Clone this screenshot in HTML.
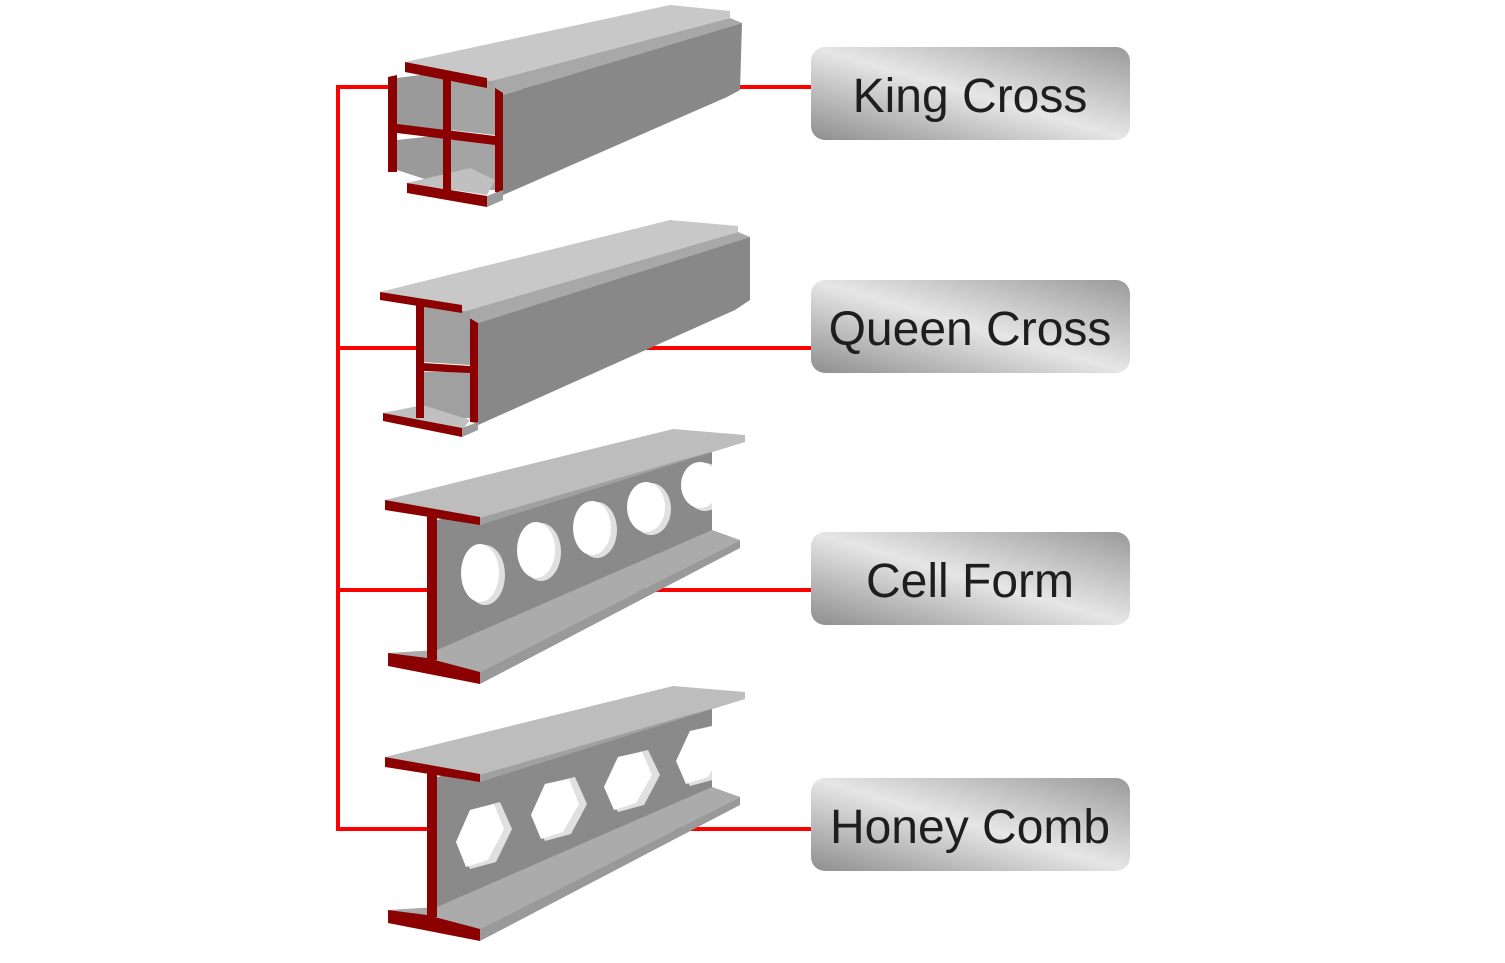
<!DOCTYPE html>
<html><head><meta charset="utf-8"><style>
html,body{margin:0;padding:0;background:#fff;}
svg{display:block;}
text{font-family:"Liberation Sans",sans-serif;}
</style></head><body>
<svg width="1505" height="963" viewBox="0 0 1505 963" xmlns="http://www.w3.org/2000/svg">
<defs>
<linearGradient id="met" x1="0" y1="1" x2="1" y2="0">
<stop offset="0" stop-color="#8e8e8e"/>
<stop offset="0.5" stop-color="#e6e6e6"/>
<stop offset="1" stop-color="#9a9a9a"/>
</linearGradient>
<clipPath id="web"><polygon points="437,520 712,452 712,537 437,660"/></clipPath>
</defs>
<!-- connectors -->
<g stroke="#ff0000" stroke-width="4" fill="none">
<line x1="338" y1="85" x2="338" y2="831"/>
<line x1="336" y1="87" x2="812" y2="87"/>
<line x1="336" y1="348" x2="812" y2="348"/>
<line x1="336" y1="590" x2="812" y2="590"/>
<line x1="336" y1="829" x2="812" y2="829"/>
</g>

<!-- Beam 1: King cross -->
<g>
<polygon points="487,82 730,18 742,23 503,95" fill="#a8a8a8"/>
<polygon points="503,95 742,23 740,90 727,97 503,195" fill="#888"/>
<polygon points="405,62 670,5 730,11 730,18 487,82" fill="#c8c8c8"/>
<polygon points="397,78 443,72 443,130 397,125" fill="#9a9a9a"/>
<polygon points="450,74 495,82 495,135 450,130" fill="#a4a4a4"/>
<polygon points="397,140 443,135 443,185 397,170" fill="#9a9a9a"/>
<polygon points="450,140 495,140 495,190 450,190" fill="#a4a4a4"/>
<polygon points="407,183 470,168 495,180 487,195" fill="#c0c0c0"/>
<polygon points="405,62 487,78 487,88 405,72" fill="#8b0000"/>
<polygon points="388,77 397,75 397,172 388,172" fill="#8b0000"/>
<polygon points="443,70 451,72 451,193 443,190" fill="#8b0000"/>
<polygon points="397,124 495,136 495,145 397,133" fill="#8b0000"/>
<polygon points="495,88 503,93 503,194 495,192" fill="#8b0000"/>
<polygon points="407,183 487,196 487,207 407,193" fill="#8b0000"/>
<polygon points="487,196 503,190 503,200 487,207" fill="#9c9c9c"/>
</g>

<!-- Beam 2: Queen cross -->
<g>
<polygon points="462,312 738,232 750,237 478,323" fill="#a8a8a8"/>
<polygon points="478,323 750,237 750,300 735,310 478,425" fill="#888"/>
<polygon points="380,292 670,220 738,226 738,232 462,312" fill="#c8c8c8"/>
<polygon points="423,305 470,312 470,365 423,362" fill="#a0a0a0"/>
<polygon points="423,372 470,372 470,418 423,420" fill="#a0a0a0"/>
<polygon points="383,413 423,405 470,420 462,430" fill="#c0c0c0"/>
<polygon points="380,292 462,305 462,313 380,300" fill="#8b0000"/>
<polygon points="416,300 424,302 424,418 416,418" fill="#8b0000"/>
<polygon points="423,363 470,366 470,373 423,371" fill="#8b0000"/>
<polygon points="470,318 478,323 478,423 470,422" fill="#8b0000"/>
<polygon points="383,413 462,428 462,437 383,421" fill="#8b0000"/>
<polygon points="462,428 478,422 478,430 462,437" fill="#9c9c9c"/>
</g>

<!-- Beam 3 -->
<g>
<polygon points="437,520 712,452 712,537 437,660" fill="#8a8a8a"/>
<polygon points="385,500 673,429 745,435 745,442 480,518" fill="#bdbdbd"/>
<polygon points="480,518 745,442 712,452 480,525" fill="#a0a0a0"/>
<polygon points="388,653 437,650 712,530 740,540 480,672" fill="#ababab"/>
<polygon points="480,672 740,540 740,548 480,684" fill="#999"/>
<polygon points="385,500 480,517 480,525 385,510" fill="#8b0000"/>
<polygon points="427,508 437,510 437,660 427,660" fill="#8b0000"/>
<polygon points="388,653 427,658 480,672 480,684 388,666" fill="#8b0000"/>
</g>
<g clip-path="url(#web)">
<ellipse cx="485" cy="575" rx="20" ry="30" fill="#e0e0e0"/>
<ellipse cx="480" cy="573" rx="19" ry="29" fill="#fff"/>
<ellipse cx="541" cy="552" rx="20" ry="29" fill="#e0e0e0"/>
<ellipse cx="536" cy="550" rx="19" ry="28" fill="#fff"/>
<ellipse cx="597" cy="530" rx="20" ry="28" fill="#e0e0e0"/>
<ellipse cx="592" cy="528" rx="19" ry="27" fill="#fff"/>
<ellipse cx="651" cy="509" rx="20" ry="26" fill="#e0e0e0"/>
<ellipse cx="646" cy="507" rx="19" ry="25" fill="#fff"/>
<ellipse cx="705" cy="487" rx="20" ry="24" fill="#e0e0e0"/>
<ellipse cx="700" cy="485" rx="19" ry="23" fill="#fff"/>
</g>

<g transform="translate(0,257)">
<polygon points="437,520 712,452 712,537 437,660" fill="#8a8a8a"/>
<polygon points="385,500 673,429 745,435 745,442 480,518" fill="#bdbdbd"/>
<polygon points="480,518 745,442 712,452 480,525" fill="#a0a0a0"/>
<polygon points="388,653 437,650 712,530 740,540 480,672" fill="#ababab"/>
<polygon points="480,672 740,540 740,548 480,684" fill="#999"/>
<polygon points="385,500 480,517 480,525 385,510" fill="#8b0000"/>
<polygon points="427,508 437,510 437,660 427,660" fill="#8b0000"/>
<polygon points="388,653 427,658 480,672 480,684 388,666" fill="#8b0000"/>
<g clip-path="url(#web)">
<polygon points="470,553 500,545 512,572 496,605 470,612 456,585" fill="#e0e0e0"/>
<polygon points="470,553 494,547 504,572 488,603 466,610 456,585" fill="#fff"/>
<polygon points="545,527 575,520 587,547 571,577 545,584 531,558" fill="#e0e0e0"/>
<polygon points="545,527 569,522 579,547 563,575 541,582 531,558" fill="#fff"/>
<polygon points="618,500 648,493 660,518 644,548 618,555 604,530" fill="#e0e0e0"/>
<polygon points="618,500 642,495 652,518 636,546 614,553 604,530" fill="#fff"/>
<polygon points="690,474 720,467 732,492 716,522 690,529 676,504" fill="#e0e0e0"/>
<polygon points="690,474 714,469 724,492 708,520 686,527 676,504" fill="#fff"/>
</g>
</g>

<!-- labels -->
<g>
<rect x="811" y="47" width="319" height="93" rx="14" fill="url(#met)"/>
<text x="970" y="112" font-size="48" text-anchor="middle" fill="#1e1e1e">King Cross</text>
<rect x="811" y="280" width="319" height="93" rx="14" fill="url(#met)"/>
<text x="970" y="345" font-size="48" text-anchor="middle" fill="#1e1e1e">Queen Cross</text>
<rect x="811" y="532" width="319" height="93" rx="14" fill="url(#met)"/>
<text x="970" y="597" font-size="48" text-anchor="middle" fill="#1e1e1e">Cell Form</text>
<rect x="811" y="778" width="319" height="93" rx="14" fill="url(#met)"/>
<text x="970" y="843" font-size="48" text-anchor="middle" fill="#1e1e1e">Honey Comb</text>
</g>
</svg>
</body></html>
